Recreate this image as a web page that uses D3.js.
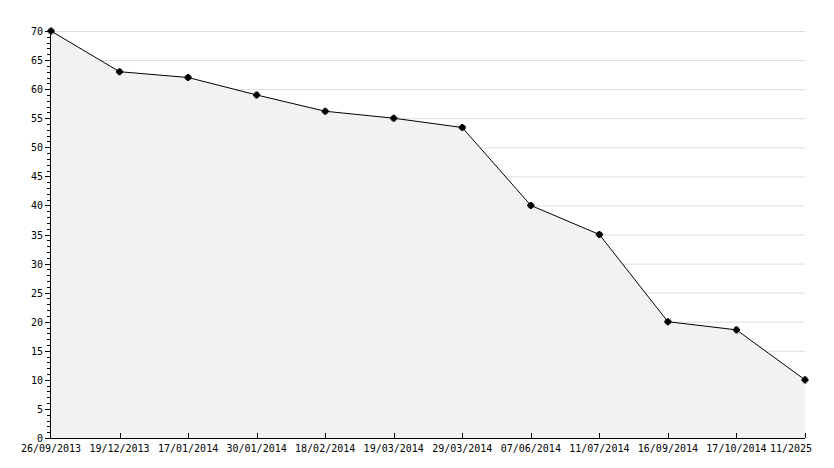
<!DOCTYPE html><html><head><script src="https://cdn.jsdelivr.net/npm/d3@7"></script>
<style>body{margin:0;background:#fff}text{font-family:"DejaVu Sans Mono",monospace;font-size:10px;fill:#000}</style></head><body>
<svg id="c" width="834" height="468"></svg>
<script>
const categories=["26/09/2013","19/12/2013","17/01/2014","30/01/2014","18/02/2014","19/03/2014","29/03/2014","07/06/2014","11/07/2014","16/09/2014","17/10/2014","11/2025"];
const values=[70,63,62,59,56.2,55,53.4,40,35,20,18.6,10];
const yTicks=d3.range(0,71,5);
const svg=d3.select("#c");
const x=d3.scalePoint().domain(categories).range([51,805]);
const y=d3.scaleLinear().domain([0,70]).range([438,31]);
const g=svg.append("g");
g.selectAll(".grid").data(yTicks.filter(d=>d>0)).join("line").attr("x1",51).attr("x2",805).attr("y1",d=>y(d)+.5).attr("y2",d=>y(d)+.5).attr("stroke","#ddd");
const pts=categories.map((c,i)=>[x(c),y(values[i])]);
g.append("path").attr("d",d3.area().x(d=>d[0]).y0(y(0)).y1(d=>d[1])(pts)).attr("fill","#f2f2f2");
g.append("path").attr("d",d3.line()(pts)).attr("fill","none").attr("stroke","#000").attr("stroke-width",1);
g.selectAll(".p").data(pts).join("path").attr("d",d3.symbol(d3.symbolCross,28)).attr("transform",d=>`translate(${d[0]},${d[1]})`).attr("fill","#000");
g.selectAll(".p2").data(pts).join("rect").attr("x",d=>d[0]-2.5).attr("y",d=>d[1]-2.5).attr("width",5).attr("height",5).attr("fill","#000");
// y axis
g.append("line").attr("x1",50.5).attr("x2",50.5).attr("y1",31).attr("y2",438).attr("stroke","#000");
g.selectAll(".mt").data(d3.range(0,71,1)).join("line").attr("x1",d=>d%5?47:45).attr("x2",50).attr("y1",d=>Math.round(y(d))+.5).attr("y2",d=>Math.round(y(d))+.5).attr("stroke","#000");
g.selectAll(".yl").data(yTicks).join("text").attr("x",43).attr("y",d=>y(d)+4).attr("text-anchor","end").text(d=>d);
// x axis
g.append("line").attr("x1",50).attr("x2",805).attr("y1",438.5).attr("y2",438.5).attr("stroke","#000");
g.selectAll(".xt").data(categories.slice(1)).join("line").attr("x1",d=>Math.round(x(d))+.5).attr("x2",d=>Math.round(x(d))+.5).attr("y1",433).attr("y2",438).attr("stroke","#000");
g.selectAll(".xl").data(categories).join("text").attr("x",(d,i)=>i==categories.length-1?x(d)-14:x(d)).attr("y",452).attr("text-anchor","middle").text(d=>d);
</script></body></html>
